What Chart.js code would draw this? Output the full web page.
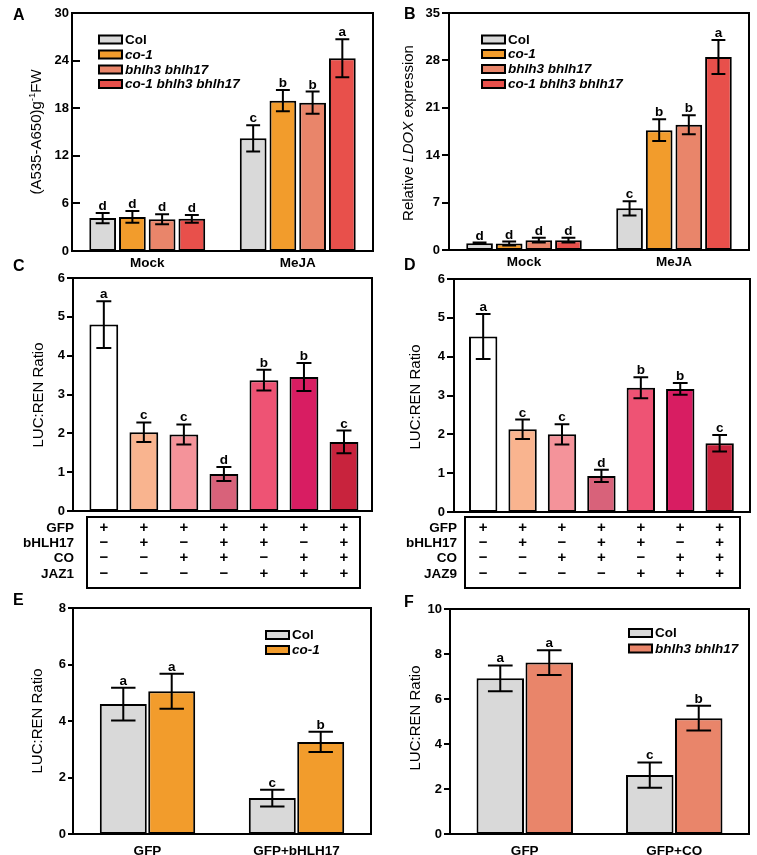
<!DOCTYPE html>
<html>
<head>
<meta charset="utf-8">
<script src="https://cdn.jsdelivr.net/npm/chart.js@4.4.1/dist/chart.umd.min.js"></script>
<style>
  body { margin: 0; background: #fff; }
  #wrap { position: relative; width: 757px; height: 855px; }
  #wrap canvas { position: absolute; left: 0; top: 0; }
</style>
</head>
<body>
<div id="wrap"></div>
<script>
// ---- data ----
const abCategories = ['Mock', 'MeJA'];
const abGenotypes = ['Col', 'co-1', 'bhlh3 bhlh17', 'co-1 bhlh3 bhlh17'];

// A: anthocyanin, one row per genotype -> [Mock, MeJA]
const aMeans   = [[4.15, 14.2], [4.3, 18.95], [4.0, 18.7], [4.05, 24.3]];
const aErrors  = [[0.65, 1.65], [0.75, 1.35], [0.62, 1.4], [0.5, 2.4]];
const aLetters = [['d', 'c'], ['d', 'b'], ['d', 'b'], ['d', 'a']];

// B: relative LDOX expression
const bMeans   = [[1.0, 6.15], [0.95, 17.7], [1.45, 18.5], [1.45, 28.5]];
const bErrors  = [[0.1, 1.05], [0.3, 1.6], [0.35, 1.4], [0.35, 2.5]];
const bLetters = [['d', 'c'], ['d', 'b'], ['d', 'b'], ['d', 'a']];

// C / D: LUC:REN with construct table
const cdRowsC = ['GFP', 'bHLH17', 'CO', 'JAZ1'];
const cdRowsD = ['GFP', 'bHLH17', 'CO', 'JAZ9'];
const cdSigns = [
    ['+', '+', '+', '+', '+', '+', '+'],
    ['−', '+', '−', '+', '+', '−', '+'],
    ['−', '−', '+', '+', '−', '+', '+'],
    ['−', '−', '−', '−', '+', '+', '+']
];
const cMeans   = [4.8, 2.03, 1.97, 0.95, 3.37, 3.45, 1.78];
const cErrors  = [0.6, 0.25, 0.26, 0.18, 0.27, 0.36, 0.29];
const cLetters = ['a', 'c', 'c', 'd', 'b', 'b', 'c'];
const dMeans   = [4.52, 2.13, 2.0, 0.93, 3.2, 3.17, 1.77];
const dErrors  = [0.58, 0.25, 0.26, 0.16, 0.27, 0.15, 0.21];
const dLetters = ['a', 'c', 'c', 'd', 'b', 'b', 'c'];

// E
const eCategories = ['GFP', 'GFP+bHLH17'];
const eGenotypes = ['Col', 'co-1'];
const eMeans   = [[4.6, 1.27], [5.05, 3.26]];
const eErrors  = [[0.58, 0.3], [0.62, 0.36]];
const eLetters = [['a', 'c'], ['a', 'b']];

// F
const fCategories = ['GFP', 'GFP+CO'];
const fGenotypes = ['Col', 'bhlh3 bhlh17'];
const fMeans   = [[6.92, 2.62], [7.62, 5.15]];
const fErrors  = [[0.57, 0.56], [0.55, 0.55]];
const fLetters = [['a', 'c'], ['a', 'b']];

// ---- styling ----
const genoColors = {
    'Col': '#d9d9d9',
    'co-1': '#f29c2c',
    'bhlh3 bhlh17': '#e9856a',
    'co-1 bhlh3 bhlh17': '#e8504b'
};
const cdColors = ['#ffffff', '#f9b48f', '#f4939a', '#d8627a', '#ee5374', '#d81d62', '#c8233d'];

const FONT = '"Liberation Sans", Arial, sans-serif';
const W = 757, H = 855;
const wrap = document.getElementById('wrap');

function drawRotatedTitle(ctx, cx, cy, parts) {
    ctx.save();
    ctx.translate(cx, cy);
    ctx.rotate(-Math.PI / 2);
    ctx.textBaseline = 'middle';
    ctx.textAlign = 'left';
    ctx.fillStyle = '#000';
    let total = 0;
    parts.forEach(pt => {
        ctx.font = (pt.italic ? 'italic ' : '') + (pt.size || 15) + 'px ' + FONT;
        pt.w = ctx.measureText(pt.t).width;
        total += pt.w;
    });
    let x = -total / 2;
    parts.forEach(pt => {
        ctx.font = (pt.italic ? 'italic ' : '') + (pt.size || 15) + 'px ' + FONT;
        ctx.fillText(pt.t, x, pt.raise ? -pt.raise : 0);
        x += pt.w;
    });
    ctx.restore();
}

function makePanel(p) {
    const canvas = document.createElement('canvas');
    canvas.width = W;
    canvas.height = H;
    canvas.style.width = W + 'px';
    canvas.style.height = H + 'px';
    wrap.appendChild(canvas);

    const [L, T, R, B] = p.plot;
    const yW = 40;
    const xH = p.categories ? 26 : 0;

    const datasets = p.means.map((m, i) => ({
        data: m.map((v, j) => ({ x: j, y: v })),
        backgroundColor: p.colors[i],
        borderColor: '#000',
        borderWidth: 2,
        borderSkipped: false,
        categoryPercentage: p.catPct,
        barPercentage: p.barPct,
        errors: p.errors[i],
        letters: p.letters[i]
    }));

    const decor = {
        id: 'decor',
        afterDatasetsDraw(chart) {
            const ctx = chart.ctx;
            const ys = chart.scales.y;
            ctx.save();
            ctx.strokeStyle = '#000';
            ctx.lineWidth = 2;
            ctx.fillStyle = '#000';
            ctx.font = 'bold 13.5px ' + FONT;
            ctx.textAlign = 'center';
            ctx.textBaseline = 'alphabetic';
            chart.data.datasets.forEach((ds, i) => {
                const meta = chart.getDatasetMeta(i);
                meta.data.forEach((bar, j) => {
                    const v = ds.data[j].y, e = ds.errors[j];
                    const yt = ys.getPixelForValue(v + e);
                    const yb = ys.getPixelForValue(v - e);
                    const cap = bar.width * 0.26;
                    ctx.beginPath();
                    ctx.moveTo(bar.x, yt); ctx.lineTo(bar.x, yb);
                    ctx.moveTo(bar.x - cap, yt); ctx.lineTo(bar.x + cap, yt);
                    ctx.moveTo(bar.x - cap, yb); ctx.lineTo(bar.x + cap, yb);
                    ctx.stroke();
                    ctx.fillText(ds.letters[j], bar.x, yt - 3);
                });
            });
            ctx.restore();
        },
        afterDraw(chart) {
            const ctx = chart.ctx;
            const ys = chart.scales.y, xs = chart.scales.x;
            const a = chart.chartArea;
            ctx.save();
            ctx.strokeStyle = '#000';
            ctx.fillStyle = '#000';
            ctx.lineWidth = 2;
            // frame
            ctx.strokeRect(a.left, a.top, a.right - a.left, a.bottom - a.top);
            // y tick marks
            ys.ticks.forEach(t => {
                const y = Math.round(ys.getPixelForValue(t.value));
                ctx.beginPath();
                ctx.moveTo(a.left, y);
                ctx.lineTo(a.left + p.tickDir * p.tickLen, y);
                ctx.stroke();
            });
            // panel letter
            ctx.font = 'bold 16px ' + FONT;
            ctx.textAlign = 'left';
            ctx.textBaseline = 'alphabetic';
            ctx.fillText(p.letter, p.letterPos[0], p.letterPos[1]);
            // legend
            if (p.legend) {
                p.legend.names.forEach((name, i) => {
                    const y = p.legend.rows[i];
                    ctx.fillStyle = genoColors[name];
                    ctx.fillRect(p.legend.x, y - 4, 23, 8);
                    ctx.lineWidth = 2;
                    ctx.strokeRect(p.legend.x, y - 4, 23, 8);
                    ctx.fillStyle = '#000';
                    ctx.font = (name === 'Col' ? '' : 'italic ') + 'bold 13.5px ' + FONT;
                    ctx.textBaseline = 'middle';
                    ctx.fillText(name, p.legend.x + 26, y + 0.5);
                });
            }
            // construct table
            if (p.table) {
                const tb = p.table;
                ctx.lineWidth = 2;
                ctx.strokeRect(tb.box[0], tb.box[1], tb.box[2] - tb.box[0], tb.box[3] - tb.box[1]);
                ctx.textBaseline = 'middle';
                tb.rows.forEach((label, r) => {
                    const y = tb.rowY[r];
                    ctx.font = 'bold 13.5px ' + FONT;
                    ctx.textAlign = 'right';
                    ctx.fillText(label, tb.labelX, y);
                    ctx.font = 'bold 15px ' + FONT;
                    ctx.textAlign = 'center';
                    cdSigns[r].forEach((s, c) => {
                        ctx.fillText(s, xs.getPixelForValue(c), y);
                    });
                });
            }
            ctx.restore();
            drawRotatedTitle(ctx, p.title.x, p.title.y, p.title.parts);
        }
    };

    const cats = p.categories || [];
    new Chart(canvas, {
        type: 'bar',
        data: { datasets },
        options: {
            responsive: false,
            animation: false,
            layout: {
                padding: { left: L - yW, top: T, right: W - R, bottom: H - B - xH }
            },
            plugins: { legend: { display: false }, tooltip: { enabled: false } },
            scales: {
                x: {
                    type: 'linear',
                    min: p.xMin,
                    max: p.xMax,
                    offset: false,
                    display: !!p.categories,
                    grid: { display: false, drawTicks: false },
                    border: { display: false },
                    afterBuildTicks: s => { s.ticks = cats.map((_, i) => ({ value: i })); },
                    afterFit: s => { s.height = xH; s.paddingLeft = 0; s.paddingRight = 0; },
                    ticks: {
                        autoSkip: false,
                        maxRotation: 0,
                        padding: p.xPad || 4,
                        color: '#000',
                        font: { family: FONT, size: 13.5, weight: 'bold' },
                        callback: v => cats[v]
                    }
                },
                y: {
                    min: 0,
                    max: p.yMax,
                    grid: { display: false, drawTicks: false },
                    border: { display: false },
                    afterFit: s => { s.width = yW; s.paddingTop = 0; s.paddingBottom = 0; },
                    ticks: {
                        stepSize: p.yStep,
                        padding: p.labelPad,
                        color: '#000',
                        font: { family: FONT, size: 13, weight: 'bold' }
                    }
                }
            }
        },
        plugins: [decor]
    });
}

document.addEventListener('DOMContentLoaded', () => {
    makePanel({
        letter: 'A', letterPos: [13, 20],
        plot: [72, 13, 373, 251], xMin: -0.5, xMax: 1.5,
        categories: abCategories, xPad: 4,
        means: aMeans, errors: aErrors, letters: aLetters,
        colors: abGenotypes.map(g => genoColors[g]),
        catPct: 0.79, barPct: 0.9,
        yMax: 30, yStep: 6, tickDir: 1, tickLen: 8, labelPad: 3,
        title: { x: 37, y: 132, parts: [{ t: '(A535-A650)g' }, { t: '-1', size: 9.5, raise: 5 }, { t: 'FW' }] },
        legend: { names: abGenotypes, x: 99, rows: [39.5, 54.5, 69.5, 84] }
    });
    makePanel({
        letter: 'B', letterPos: [404, 19],
        plot: [449, 13, 749, 250], xMin: -0.5, xMax: 1.5,
        categories: abCategories, xPad: 4,
        means: bMeans, errors: bErrors, letters: bLetters,
        colors: abGenotypes.map(g => genoColors[g]),
        catPct: 0.79, barPct: 0.9,
        yMax: 35, yStep: 7, tickDir: -1, tickLen: 7, labelPad: 9,
        title: { x: 409, y: 133, parts: [{ t: 'Relative ' }, { t: 'LDOX', italic: true }, { t: ' expression' }] },
        legend: { names: abGenotypes, x: 482, rows: [39.5, 54, 69, 84] }
    });
    makePanel({
        letter: 'C', letterPos: [13, 271],
        plot: [73, 278, 372, 511], xMin: -0.77, xMax: 6.7,
        categories: null,
        means: [cMeans], errors: [cErrors], letters: [cLetters],
        colors: [cdColors],
        catPct: 0.72, barPct: 1,
        yMax: 6, yStep: 1, tickDir: -1, tickLen: 6, labelPad: 8,
        title: { x: 38.5, y: 395, parts: [{ t: 'LUC:REN Ratio' }] },
        table: { box: [87, 517, 360, 588], labelX: 74, rows: cdRowsC, rowY: [528, 543, 558, 574] }
    });
    makePanel({
        letter: 'D', letterPos: [404, 270],
        plot: [454, 279, 750, 512], xMin: -0.74, xMax: 6.77,
        categories: null,
        means: [dMeans], errors: [dErrors], letters: [dLetters],
        colors: [cdColors],
        catPct: 0.72, barPct: 1,
        yMax: 6, yStep: 1, tickDir: -1, tickLen: 7, labelPad: 9,
        title: { x: 416, y: 397, parts: [{ t: 'LUC:REN Ratio' }] },
        table: { box: [465, 517, 740, 588], labelX: 457, rows: cdRowsD, rowY: [528, 543, 558, 574] }
    });
    makePanel({
        letter: 'E', letterPos: [13, 605],
        plot: [73, 608, 371, 834], xMin: -0.5, xMax: 1.5,
        categories: eCategories, xPad: 9,
        means: eMeans, errors: eErrors, letters: eLetters,
        colors: eGenotypes.map(g => genoColors[g]),
        catPct: 0.65, barPct: 0.97,
        yMax: 8, yStep: 2, tickDir: -1, tickLen: 5, labelPad: 7,
        title: { x: 38, y: 721, parts: [{ t: 'LUC:REN Ratio' }] },
        legend: { names: eGenotypes, x: 266, rows: [635, 650] }
    });
    makePanel({
        letter: 'F', letterPos: [404, 607],
        plot: [450, 609, 749, 834], xMin: -0.5, xMax: 1.5,
        categories: fCategories, xPad: 9,
        means: fMeans, errors: fErrors, letters: fLetters,
        colors: fGenotypes.map(g => genoColors[g]),
        catPct: 0.655, barPct: 0.97,
        yMax: 10, yStep: 2, tickDir: -1, tickLen: 6, labelPad: 8,
        title: { x: 416, y: 718, parts: [{ t: 'LUC:REN Ratio' }] },
        legend: { names: fGenotypes, x: 629, rows: [633, 648.5] }
    });
});
</script>
</body>
</html>
